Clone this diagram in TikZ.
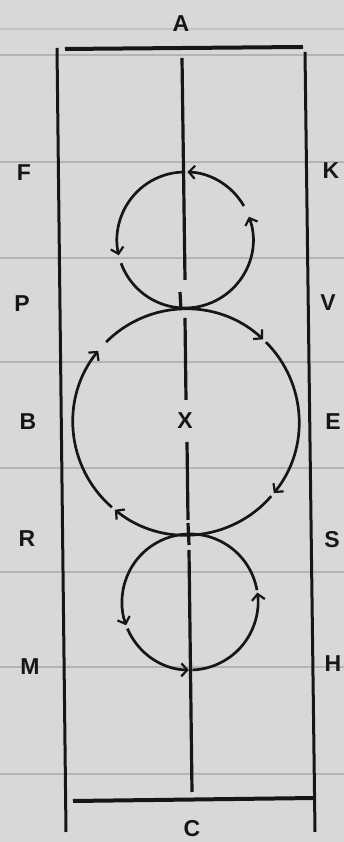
\documentclass[tikz,border=0pt]{standalone}
\usepackage{fontspec}
\setmainfont{Liberation Sans}
\usetikzlibrary{arrows.meta}
\definecolor{paper}{RGB}{216,216,216}
\definecolor{ruleln}{RGB}{180,180,180}
\definecolor{ink}{RGB}{22,22,22}
\tikzset{
  lbl/.style={font=\fontsize{23}{27}\selectfont\bfseries, text=ink, inner sep=0pt},
  circ/.style={draw=ink, line width=2.7pt, -{Straight Barb[length=6pt,width=13pt,line width=2.2pt]}},
  frame/.style={draw=ink, line width=3pt},
  bar/.style={draw=ink, line width=4pt},
  axis/.style={draw=ink, line width=3.2pt},
  rule/.style={draw=ruleln, line width=1.2pt}
}
\begin{document}
\begin{tikzpicture}[x=1pt,y=1pt]
\useasboundingbox (0,0) rectangle (344,842);
\fill[paper] (0,0) rectangle (344,842);
% ruled paper lines
\foreach \yy in {55,162,258,362,468,572,667,774}
  \draw[rule] (0,{842-\yy}) -- (344,{842-\yy});
\draw[rule, draw=ruleln!60!paper] (0,813) -- (344,813);

% frame
\coordinate (lt) at (57,794);
\coordinate (lb) at (66,10);
\coordinate (rt) at (305,790);
\coordinate (rb) at (315,10);
\draw[frame] (lt) -- (lb);
\draw[frame] (rt) -- (rb);
\coordinate (tl) at (65,793);
\coordinate (tr) at (303,795);
\draw[bar] (tl) -- (tr);
\coordinate (bl) at (73,41);
\coordinate (br) at (315,44);
\draw[bar] (bl) -- (br);

% centre axis
\coordinate (a1) at (182,784);
\coordinate (a2) at (185,562);
\coordinate (a3) at (180,550);
\coordinate (a4) at (181,532);
\coordinate (a5) at (185,524);
\coordinate (a6) at (186,442);
\coordinate (a7) at (187,400);
\coordinate (a8) at (188,322);
\coordinate (a9) at (188,319);
\coordinate (a10) at (189,297);
\coordinate (a11) at (189,292);
\coordinate (a12) at (192,50);
\draw[axis] (a1) -- (a2);
\draw[axis] (a3) -- (a4);
\draw[axis] (a5) -- (a6);
\draw[axis] (a7) -- (a8);
\draw[axis] (a9) -- (a10);
\draw[axis] (a11) -- (a12);

% circles
\coordinate (c1) at (185,602);
\coordinate (c2) at (186,420);
\coordinate (c3) at (190,240);

% top circle, counterclockwise
\draw[circ] ([shift={(30:68)}]c1) arc[start angle=30,end angle=88,radius=68];
\draw[circ] ([shift={(90:68)}]c1) arc[start angle=90,end angle=193,radius=68];
\draw[circ] ([shift={(200:68)}]c1) arc[start angle=200,end angle=380,radius=68];

% big circle, clockwise
\draw[circ] ([shift={(135:113)}]c2) arc[start angle=135,end angle=47,radius=113];
\draw[circ] ([shift={(45:113)}]c2) arc[start angle=45,end angle=-39,radius=113];
\draw[circ] ([shift={(-41:113)}]c2) arc[start angle=-41,end angle=-129,radius=113];
\draw[circ] ([shift={(-131:113)}]c2) arc[start angle=-131,end angle=-219,radius=113];

% bottom circle, counterclockwise
\draw[circ] ([shift={(272:68)}]c3) arc[start angle=272,end angle=368,radius=68];
\draw[circ] ([shift={(10:68)}]c3) arc[start angle=10,end angle=200,radius=68];
\draw[circ] ([shift={(203:68)}]c3) arc[start angle=203,end angle=269,radius=68];

% labels
\node[lbl] (A) at (181,818) {A};
\node[lbl] (C) at (192,13) {C};
\node[lbl] (F) at (24,669) {F};
\node[lbl] (K) at (331,671) {K};
\node[lbl] (P) at (22,538) {P};
\node[lbl] (V) at (328,539) {V};
\node[lbl] (B) at (28,420) {B};
\node[lbl] (E) at (333,420) {E};
\node[lbl] (R) at (27,303) {R};
\node[lbl] (S) at (332,302) {S};
\node[lbl] (M) at (30,175) {M};
\node[lbl] (H) at (333,178) {H};
\node[lbl, fill=paper, inner sep=3pt] (X) at (185,421) {X};
\end{tikzpicture}
\end{document}
